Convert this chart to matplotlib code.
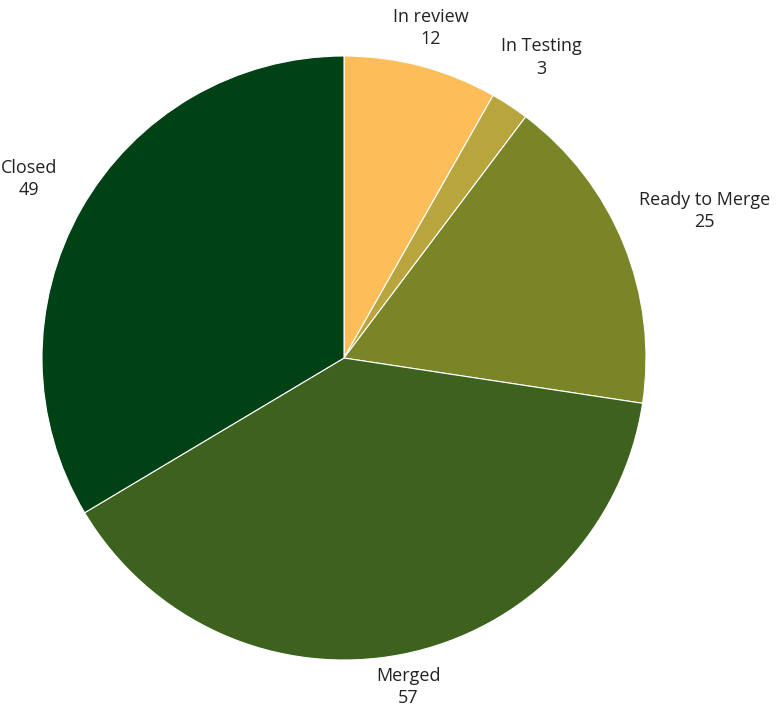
import numpy as np
import matplotlib.pyplot as plt

labels = ['In review', 'In Testing', 'Ready to Merge', 'Merged', 'Closed']
values = [12, 3, 25, 57, 49]
colors = ['#FDBE5A', '#B8A53E', '#7A8527', '#3D621D', '#004116']
label_dist = [1.13, 1.19, 1.29, 1.11, 1.20]

fig = plt.figure(figsize=(7.82, 7.23), dpi=100)
ax = fig.add_axes([42 / 782, 63 / 723, 604 / 782, 604 / 723])

wedges, _ = ax.pie(values, colors=colors, startangle=90, counterclock=False,
                   wedgeprops=dict(edgecolor='white', linewidth=0.8))

for w, lab, val, d in zip(wedges, labels, values, label_dist):
    ang = np.deg2rad((w.theta1 + w.theta2) / 2)
    ax.text(d * np.cos(ang), d * np.sin(ang), f'{lab}\n{val}',
            ha='center', va='center', fontsize=13, family='Open Sans',
            color='#222222', linespacing=1.3)

ax.set_xlim(-1, 1)
ax.set_ylim(-1, 1)
ax.set_aspect('equal')
fig.savefig('out.png', dpi=100)
